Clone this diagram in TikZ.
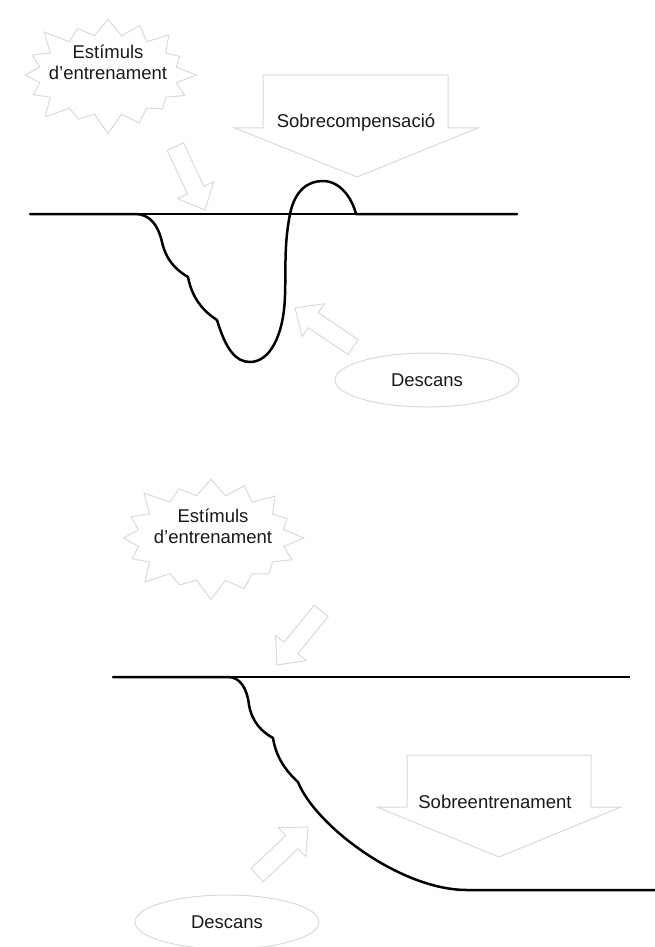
\documentclass[tikz,border=0pt]{standalone}
\usepackage{fontspec}
\setmainfont{Liberation Sans}
\usetikzlibrary{shapes.geometric,shapes.symbols}
\definecolor{paleline}{RGB}{218,218,218}
\definecolor{inktext}{RGB}{25,25,25}
\tikzset{
  burst/.style={
    starburst,
    draw=paleline,
    line width=1pt,
    starburst points=16,
    starburst point height=22pt,
    inner sep=0pt
  },
  caption/.style={
    font=\fontsize{18.5}{21}\selectfont,
    text=inktext,
    align=center,
    inner sep=0pt
  },
  restblob/.style={
    ellipse,
    draw=paleline,
    line width=1pt,
    minimum width=184pt,
    minimum height=54pt,
    font=\fontsize{18.5}{21}\selectfont,
    text=inktext
  },
  hollow/.pic={
    \draw[paleline, line width=1pt, line join=round]
      (0,0) -- (-22,20) -- (-22,9) -- (-70,9) -- (-70,-9) -- (-22,-9) -- (-22,-20) -- cycle;
  },
  bigarrow/.style={draw=paleline, line width=1pt, fill=white},
  axisline/.style={line width=1.2pt},
  loadcurve/.style={line width=2.5pt, line join=round, line cap=round}
}

\begin{document}
\begin{tikzpicture}[x=1pt, y=-1pt]
\useasboundingbox (0,0) rectangle (655,947);

\node[burst, minimum width=183pt, minimum height=124pt] (stimA) at (108,75) {};
\node[caption] (stimAtext) at (108,62) {Estímuls\\d'entrenament};

\draw[bigarrow] (263,75) -- (448,75) -- (448,128) -- (478,128) -- (357,177)
  -- (235,128) -- (263,128) -- cycle;
\node[caption, anchor=base] (overA) at (356,128) {Sobrecompensació};

\node[restblob] (restA) at (427,380) {Descans};

\coordinate (arrAtail) at (176,148);
\coordinate (arrAtip) at (205,210);
\path (arrAtail) -- pic[pos=1, sloped, allow upside down] {hollow} (arrAtip);
\coordinate (arrBtail) at (353,347);
\coordinate (arrBtip) at (295,308);
\path (arrBtail) -- pic[pos=1, sloped, allow upside down] {hollow} (arrBtip);

\coordinate (baseAl) at (30,214);
\coordinate (baseAr) at (517,214);
\draw[axisline] (baseAl) -- (baseAr);
\draw[loadcurve] (baseAl) -- (135,214)
  .. controls (150,214) and (158,225) .. (162,242)
  .. controls (166,260) and (176,270) .. (188,277)
  .. controls (192,298) and (203,311) .. (217,320)
  .. controls (226,350) and (236,362) .. (250,362)
  .. controls (270,362) and (284,335) .. (285,295)
  .. controls (286,265) and (284,245) .. (290,214)
  .. controls (295,190) and (308,181) .. (323,181)
  .. controls (340,181) and (352,198) .. (356,214) -- (baseAr);

\node[burst, minimum width=192pt, minimum height=130pt] (stimB) at (211,538) {};
\node[caption] (stimBtext) at (213,526) {Estímuls\\d'entrenament};

\draw[bigarrow] (407,755) -- (591,755) -- (591,807) -- (621,807) -- (499,857)
  -- (377,807) -- (407,807) -- cycle;
\node[caption, anchor=base] (overB) at (495,808) {Sobreentrenament};

\node[restblob] (restB) at (227,922) {Descans};

\coordinate (arrCtail) at (322,610);
\coordinate (arrCtip) at (277,665);
\path (arrCtail) -- pic[pos=1, sloped, allow upside down] {hollow} (arrCtip);
\coordinate (arrDtail) at (257,875);
\coordinate (arrDtip) at (308,827);
\path (arrDtail) -- pic[pos=1, sloped, allow upside down] {hollow} (arrDtip);

\coordinate (baseBl) at (113,677);
\coordinate (baseBr) at (630,677);
\draw[axisline] (baseBl) -- (baseBr);
\draw[loadcurve] (baseBl) -- (228,677)
  .. controls (240,677) and (247,688) .. (249,705)
  .. controls (252,722) and (262,732) .. (273,738)
  .. controls (276,758) and (287,772) .. (298,782)
  .. controls (315,825) and (400,890) .. (467,890) -- (655,890);
\end{tikzpicture}
\end{document}
